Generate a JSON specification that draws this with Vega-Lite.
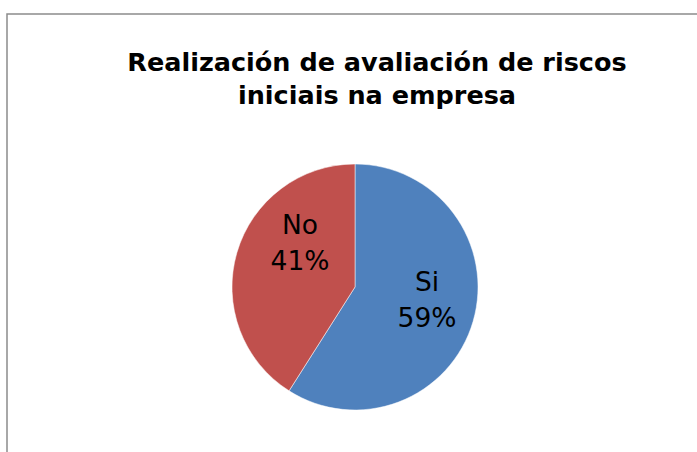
{
  "$schema": "https://vega.github.io/schema/vega-lite/v6.json",
  "autosize": "none",
  "padding": {"left": 7, "top": 14, "right": 0, "bottom": 0},
  "width": 696,
  "height": 546,
  "background": "white",
  "view": {"stroke": "#8c8c8c", "strokeWidth": 1.5, "fill": "white"},
  "title": {
    "text": ["Realización de avaliación de riscos", "iniciais na empresa"],
    "orient": "top",
    "anchor": "middle",
    "baseline": "alphabetic",
    "offset": 0,
    "dx": 22,
    "dy": 115,
    "font": "DejaVu Sans",
    "fontSize": 25.5,
    "fontWeight": "bold",
    "color": "black",
    "lineHeight": 33
  },
  "data": {
    "values": [
      {"cat": "Si", "value": 59, "label": "Si\n59%"},
      {"cat": "No", "value": 41, "label": "No\n41%"}
    ]
  },
  "encoding": {
    "theta": {"field": "value", "type": "quantitative", "stack": true},
    "order": {"field": "cat", "sort": "descending"},
    "color": {
      "field": "cat",
      "type": "nominal",
      "scale": {"domain": ["Si", "No"], "range": ["#4F81BD", "#C0504D"]},
      "legend": null
    }
  },
  "layer": [
    {"mark": {"type": "arc", "outerRadius": 123, "stroke": "white", "strokeWidth": 0.5}},
    {
      "mark": {"type": "text", "radius": 75, "dy": -25, "font": "DejaVu Sans", "fontSize": 26.5, "lineBreak": "\n", "lineHeight": 36, "align": "center", "baseline": "middle"},
      "encoding": {
        "text": {"condition": {"test": "datum.cat == 'Si'", "field": "label"}, "value": ""},
        "color": {"value": "black"}
      }
    },
    {
      "mark": {"type": "text", "radius": 75, "dx": 17, "dy": -40, "font": "DejaVu Sans", "fontSize": 26.5, "lineBreak": "\n", "lineHeight": 36, "align": "center", "baseline": "middle"},
      "encoding": {
        "text": {"condition": {"test": "datum.cat == 'No'", "field": "label"}, "value": ""},
        "color": {"value": "black"}
      }
    }
  ]
}
